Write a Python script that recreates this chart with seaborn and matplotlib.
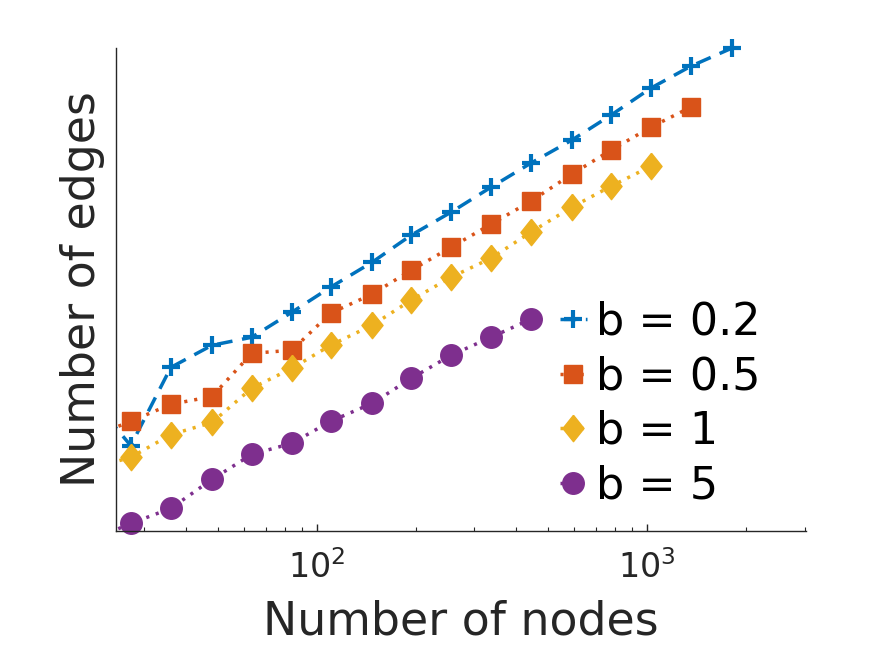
import numpy as np
import pandas as pd
import matplotlib
matplotlib.use("Agg")
import matplotlib.pyplot as plt
import seaborn as sns
from matplotlib.patches import Rectangle
from matplotlib.ticker import LogLocator, NullFormatter

# number of nodes (shared grid, first point lies left of the visible range)
nodes = [20.6, 27.3, 36.1, 48.1, 63.5, 84.0, 110, 147, 193, 255, 337, 445, 592, 778, 1028, 1359, 1811]

edges_b02 = [192, 109, 273, 354, 389, 522, 700, 938, 1289, 1689, 2265, 3004, 3936, 5277, 7248, 9380, 11600]
edges_b05 = [120, 145, 177, 194, 322, 334, 516, 645, 854, 1119, 1467, 1921, 2638, 3499, 4584, 5799]
edges_b1 = [83, 95, 124, 143, 214, 270, 354, 448, 601, 787, 984, 1336, 1791, 2291, 2897]
edges_b5 = [35.8, 43.7, 52.2, 73.3, 98.4, 112, 145, 179, 240, 315, 389, 481]

labels = ['b = 0.2', 'b = 0.5', 'b = 1', 'b = 5']
series = [edges_b02, edges_b05, edges_b1, edges_b5]
colors = ['#0072BD', '#D95319', '#EDB120', '#7E2F8E']

diamond = [(0, 1), (0.8, 0), (0, -1), (-0.8, 0), (0, 1)]
styles = [
    dict(marker='+', markersize=13, markeredgewidth=3.0, linestyle=(0, (4.5, 2.8))),
    dict(marker='s', markersize=13, markeredgewidth=1.0, linestyle=(0, (0.9, 2.0))),
    dict(marker=diamond, markersize=19, markeredgewidth=1.0, linestyle=(0, (0.9, 2.0))),
    dict(marker='o', markersize=15.5, markeredgewidth=1.0, linestyle=(0, (0.9, 2.0))),
]

sns.set_theme(style='white')
plt.rcParams['font.family'] = ['DejaVu Sans']
text_color = '#262626'

fig = plt.figure(figsize=(8.91, 6.45), dpi=100)
ax = fig.add_axes([0.130, 0.1767, 0.7746, 0.7489])

for lab, ys, col, st in zip(labels, series, colors, styles):
    df = pd.DataFrame({'nodes': nodes[:len(ys)], 'edges': ys})
    sns.lineplot(data=df, x='nodes', y='edges', ax=ax, color=col, label=lab,
                 linewidth=2.5, markerfacecolor=col, markeredgecolor=col, sort=False, **st)

ax.set_xscale('log')
ax.set_yscale('log')
ax.set_xlim(24.6, 3030)
ax.set_ylim(40, 11600)

# clip only on the left/bottom so that markers at the top edge stay whole
clip = Rectangle((0, -0.05), 1.2, 1.2, transform=ax.transAxes, facecolor='none', edgecolor='none')
for ln in ax.lines:
    ln.set_clip_path(clip)

ax.set_yticks([])
ax.yaxis.set_minor_locator(matplotlib.ticker.NullLocator())
ax.xaxis.set_major_locator(LogLocator(base=10, numticks=10))
ax.xaxis.set_minor_locator(LogLocator(base=10, subs=np.arange(2, 10), numticks=20))
ax.xaxis.set_minor_formatter(NullFormatter())
ax.tick_params(axis='x', which='major', direction='in', length=5, width=1, colors=text_color,
               labelsize=24, pad=14, bottom=True)
ax.tick_params(axis='x', which='minor', direction='in', length=3, width=0.8, colors=text_color, bottom=True)

for side in ['top', 'right']:
    ax.spines[side].set_visible(False)
for side in ['left', 'bottom']:
    ax.spines[side].set_color(text_color)
    ax.spines[side].set_linewidth(1.0)

ax.set_xlabel('Number of nodes', fontsize=33, color=text_color, labelpad=10)
ax.set_ylabel('Number of edges', fontsize=33, color=text_color, labelpad=8)

leg = ax.legend(loc='upper left', bbox_to_anchor=(0.618, 0.514), frameon=False, fontsize=32,
                handlelength=0.6, handletextpad=0.2, labelspacing=0.26, borderaxespad=0)
for t in leg.get_texts():
    t.set_color('black')

fig.savefig('out.png', dpi=100)
